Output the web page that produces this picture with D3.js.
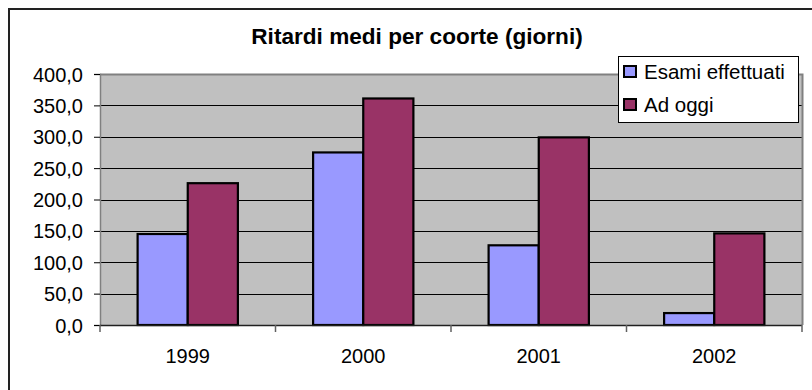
<!DOCTYPE html>
<html>
<head>
<meta charset="utf-8">
<script src="https://cdn.jsdelivr.net/npm/d3@7/dist/d3.min.js"></script>
<style>
  html, body { margin: 0; padding: 0; background: #fff; }
  svg { display: block; font-family: "Liberation Sans", Arial, sans-serif; }
</style>
</head>
<body>
<svg id="chart" width="812" height="390"></svg>
<script>
// Cohort years on the category axis
const years = ["1999", "2000", "2001", "2002"];
// Series names, in legend order
const seriesNames = ["Esami effettuati", "Ad oggi"];
// Average delay (days) per cohort, one array per series
const esamiEffettuati = [145, 275, 127, 19];
const adOggi = [226, 361, 299, 146];
// Value axis ticks
const yTicks = [0, 50, 100, 150, 200, 250, 300, 350, 400];

const seriesValues = [esamiEffettuati, adOggi];
const colors = ["#9999FF", "#993366"];

const svg = d3.select("#chart");
const plot = { left: 100, right: 802, top: 74, bottom: 325 };

// Chart area frame
svg.append("rect")
  .attr("x", 9).attr("y", 9)
  .attr("width", 900).attr("height", 500)
  .attr("fill", "#fff")
  .attr("stroke", "#222").attr("stroke-width", 2);

// Title
svg.append("text")
  .attr("x", 417).attr("y", 44)
  .attr("text-anchor", "middle")
  .attr("font-size", 22.6).attr("font-weight", "bold")
  .attr("fill", "#000")
  .text("Ritardi medi per coorte (giorni)");

const x0 = d3.scaleBand().domain(years).range([plot.left, plot.right]).padding(0);
const x1 = d3.scaleBand().domain(seriesNames).range([0, x0.bandwidth()])
  .paddingInner(0).paddingOuter(0.75);
const y = d3.scaleLinear().domain([0, 400]).range([plot.bottom, plot.top]);

// Plot area background
svg.append("rect")
  .attr("x", plot.left).attr("y", plot.top)
  .attr("width", plot.right - plot.left).attr("height", plot.bottom - plot.top)
  .attr("fill", "#C0C0C0");

// Horizontal gridlines
svg.append("g").selectAll("line")
  .data(yTicks.filter(d => d > 0))
  .join("line")
  .attr("x1", plot.left).attr("x2", plot.right)
  .attr("y1", d => Math.round(y(d)) + 0.5).attr("y2", d => Math.round(y(d)) + 0.5)
  .attr("stroke", "#000").attr("stroke-width", 1);

// Plot area border (top and right)
svg.append("path")
  .attr("d", `M${plot.left},${plot.top + 0.5}H${plot.right + 0.5}V${plot.bottom}`)
  .attr("fill", "none").attr("stroke", "#808080").attr("stroke-width", 2);

// Bars
const groups = svg.append("g").selectAll("g")
  .data(years)
  .join("g")
  .attr("transform", d => `translate(${x0(d)},0)`);

groups.selectAll("rect")
  .data((d, i) => seriesNames.map((s, j) => ({ s, j, v: seriesValues[j][i] })))
  .join("rect")
  .attr("x", d => x1(d.s))
  .attr("y", d => y(d.v))
  .attr("width", x1.bandwidth())
  .attr("height", d => y(0) - y(d.v))
  .attr("fill", d => colors[d.j])
  .attr("stroke", "#000").attr("stroke-width", 2.2);

// Value axis
const yAxis = svg.append("g")
  .attr("transform", `translate(${plot.left},0)`)
  .call(d3.axisLeft(y).tickValues(yTicks).tickSize(6).tickPadding(11)
    .tickFormat(d => d3.format(".1f")(d).replace(".", ",")));
yAxis.select(".domain").attr("stroke", "#808080").attr("stroke-width", 1.5);
yAxis.selectAll(".tick line").attr("stroke", "#000");
yAxis.selectAll(".tick text")
  .attr("font-size", 20).attr("fill", "#000")
  .attr("font-family", "Liberation Sans, Arial, sans-serif")
  .attr("dy", "0.35em");

// Category axis
const xAxis = svg.append("g")
  .attr("transform", `translate(0,${plot.bottom})`);
xAxis.append("line")
  .attr("x1", plot.left).attr("x2", plot.right)
  .attr("y1", 0.5).attr("y2", 0.5)
  .attr("stroke", "#202020").attr("stroke-width", 1.5);
xAxis.selectAll("line.cat")
  .data(d3.range(years.length + 1))
  .join("line")
  .attr("class", "cat")
  .attr("x1", i => plot.left + i * x0.step()).attr("x2", i => plot.left + i * x0.step())
  .attr("y1", 0).attr("y2", 7)
  .attr("stroke", "#606060").attr("stroke-width", 1.5);
xAxis.selectAll("text")
  .data(years)
  .join("text")
  .attr("x", d => x0(d) + x0.bandwidth() / 2)
  .attr("y", 38)
  .attr("text-anchor", "middle")
  .attr("font-size", 20).attr("fill", "#000")
  .text(d => d);

// Legend
const legend = svg.append("g").attr("transform", "translate(618,56)");
legend.append("rect")
  .attr("x", 0.5).attr("y", 0.5).attr("width", 180).attr("height", 66)
  .attr("fill", "#fff").attr("stroke", "#000").attr("stroke-width", 1);
const items = legend.selectAll("g.item")
  .data(seriesNames)
  .join("g")
  .attr("class", "item")
  .attr("transform", (d, i) => `translate(0,${i * 33})`);
items.append("rect")
  .attr("x", 6).attr("y", 10).attr("width", 12).attr("height", 11)
  .attr("fill", (d, i) => colors[i])
  .attr("stroke", "#000").attr("stroke-width", 2);
items.append("text")
  .attr("x", 26).attr("y", 22.5)
  .attr("font-size", 20.5).attr("fill", "#000")
  .text(d => d);
</script>
</body>
</html>
